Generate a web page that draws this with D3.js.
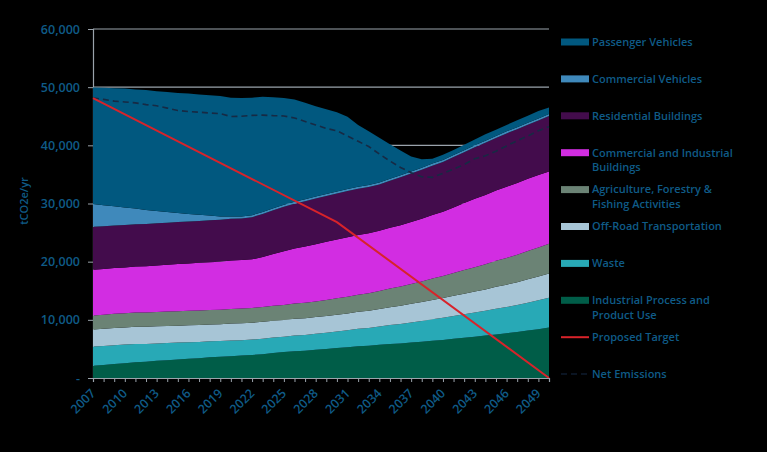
<!DOCTYPE html>
<html>
<head>
<meta charset="utf-8">
<script src="https://cdn.jsdelivr.net/npm/d3@7/dist/d3.min.js"></script>
<style>
  html, body { margin: 0; padding: 0; background: #000; }
  svg { display: block; }
  text { font-family: "Open Sans", sans-serif; }
</style>
</head>
<body>
<svg id="chart" width="767" height="452"></svg>
<script>
// --- data (tCO2e/yr) ---
var years = d3.range(2007, 2051)

var industrial = [2100,2250,2400,2550,2700,2800,2950,3050,3200,3300,3400,3550,3650,3750,3850,3950,4100,4300,4450,4600,4700,4850,5000,5150,5300,5450,5550,5700,5850,5950,6100,6250,6400,6550,6750,6900,7100,7300,7500,7700,7900,8150,8400,8700]
var waste = [3300,3250,3250,3200,3150,3050,3000,2950,2900,2850,2800,2750,2700,2700,2650,2650,2650,2650,2650,2700,2700,2750,2800,2850,2900,3000,3050,3150,3250,3350,3450,3550,3700,3800,3900,4050,4150,4250,4400,4500,4650,4800,4950,5100]
var offRoad = [2950,2950,2950,2950,2950,2950,2950,2950,2900,2900,2900,2900,2900,2900,2900,2900,2900,2880,2870,2870,2870,2870,2880,2890,2900,2930,2960,3000,3070,3130,3200,3270,3330,3400,3470,3530,3600,3680,3770,3850,3930,4020,4100,4150]
var agriculture = [2400,2420,2440,2450,2450,2450,2450,2470,2480,2500,2500,2500,2500,2520,2530,2550,2570,2580,2600,2630,2670,2700,2750,2800,2850,2930,3020,3100,3200,3300,3400,3530,3670,3800,3930,4070,4200,4330,4470,4600,4730,4870,5000,5150]
var commIndBuildings = [7850,7850,7850,7850,7900,7950,8000,8050,8100,8150,8200,8220,8250,8350,8350,8350,8600,8900,9230,9450,9650,9830,9980,10120,10250,10280,10320,10350,10450,10550,10650,10780,10920,11050,11280,11520,11750,11920,12080,12250,12320,12400,12450,12400]
var residential = [7400,7370,7330,7300,7280,7270,7250,7230,7220,7200,7200,7200,7200,7150,7150,7250,7380,7520,7650,7720,7790,7850,7880,7920,7950,7950,7950,7950,8080,8220,8350,8420,8490,8550,8650,8750,8850,8950,9050,9150,9220,9290,9350,9550]
var commVehicles = [3900,3600,3300,3000,2700,2400,2100,1850,1550,1300,1050,800,550,400,350,350,350,350,350,350,350,350,350,350,350,350,350,350,350,350,350,350,350,350,350,350,350,350,350,350,350,350,350,350]
var passVehicles = [20050,20210,20280,20450,20470,20630,20600,20600,20650,20700,20700,20680,20750,20430,20370,20200,19800,19070,18350,17580,16570,15500,14560,13620,12400,10610,9200,7700,5950,4250,2600,1450,840,900,870,930,1000,1120,1080,1100,1200,1220,1300,1100]
var netEmissions = [48150,47900,47600,47450,47300,47000,46800,46400,46000,45800,45700,45550,45450,44950,45000,45150,45200,45100,45050,44700,44100,43500,42900,42500,41600,40700,39800,38500,37300,36200,35300,34600,34500,35200,35900,36700,37700,38200,39000,39900,40800,41600,42500,43200]
var targetYears = [2007, 2030, 2050]
var targetValues = [48100, 26800, 0]

var yTicks = [0, 10000, 20000, 30000, 40000, 50000, 60000]
var xLabelYears = d3.range(2007, 2050, 3)

// --- series, bottom to top ---
var series = [
  {key: "industrial", name: ["Industrial Process and", "Product Use"], color: "#005d48", values: industrial},
  {key: "waste", name: ["Waste"], color: "#28a9b6", values: waste},
  {key: "offRoad", name: ["Off-Road Transportation"], color: "#a7c5d6", values: offRoad},
  {key: "agriculture", name: ["Agriculture, Forestry &", "Fishing Activities"], color: "#6b8375", values: agriculture},
  {key: "commInd", name: ["Commercial and Industrial", "Buildings"], color: "#d22de2", values: commIndBuildings},
  {key: "residential", name: ["Residential Buildings"], color: "#430c4c", values: residential},
  {key: "commVeh", name: ["Commercial Vehicles"], color: "#3f89bb", values: commVehicles},
  {key: "passVeh", name: ["Passenger Vehicles"], color: "#01587f", values: passVehicles}
]

var textColor = "#0f5b87"
var gridColor = "#9aa3ab"

var margin = {top: 29, right: 218, bottom: 74, left: 93}
var width = 767 - margin.left - margin.right
var height = 452 - margin.top - margin.bottom

var svg = d3.select("#chart")
var g = svg.append("g").attr("transform", "translate(" + margin.left + "," + margin.top + ")")

var x = d3.scaleLinear().domain([2007, 2050]).range([0, width])
var y = d3.scaleLinear().domain([0, 60000]).range([height, 0])

// table for the stack
var table = years.map(function(yr, i) {
  var row = {year: yr}
  series.forEach(function(s) { row[s.key] = s.values[i] })
  return row
})
var stacked = d3.stack().keys(series.map(function(s) { return s.key }))(table)

//---gridlines---
g.append("g")
  .selectAll("line")
  .data(yTicks.filter(function(d) { return d > 0 }))
  .join("line")
  .attr("x1", 0).attr("x2", width)
  .attr("y1", function(d) { return y(d) }).attr("y2", function(d) { return y(d) })
  .attr("stroke", gridColor).attr("stroke-width", 1.2)

//---y axis---
var yAxis = g.append("g")
  .call(d3.axisLeft(y).tickValues(yTicks).tickSize(5).tickPadding(8)
    .tickFormat(function(d) { return d === 0 ? "-" : d3.format(",")(d) }))
yAxis.select(".domain").attr("stroke", gridColor).attr("stroke-width", 1.2)
yAxis.selectAll(".tick line").attr("stroke", gridColor)
yAxis.selectAll(".tick text")
  .attr("fill", textColor).attr("font-size", 12.5).attr("font-weight", 600)
  .attr("font-family", "Open Sans, sans-serif")

//---areas---
var area = d3.area()
  .x(function(d) { return x(d.data.year) })
  .y0(function(d) { return y(d[0]) })
  .y1(function(d) { return y(d[1]) })

g.append("g")
  .selectAll("path")
  .data(stacked)
  .join("path")
  .attr("d", area)
  .attr("fill", function(d, i) { return series[i].color })

//---net emissions (dashed)---
var line = d3.line()
  .x(function(d) { return x(d[0]) })
  .y(function(d) { return y(d[1]) })

g.append("path")
  .attr("d", line(years.map(function(yr, i) { return [yr, netEmissions[i]] })))
  .attr("fill", "none")
  .attr("stroke", "#172a44")
  .attr("stroke-width", 1.6)
  .attr("stroke-dasharray", "6,4")

//---proposed target---
g.append("path")
  .attr("d", line(targetYears.map(function(yr, i) { return [yr, targetValues[i]] })))
  .attr("fill", "none")
  .attr("stroke", "#d8232a")
  .attr("stroke-width", 2)

//---x axis---
var xAxis = g.append("g")
  .attr("transform", "translate(0," + height + ")")
  .call(d3.axisBottom(x).tickValues(years).tickSize(4).tickFormat(""))
xAxis.select(".domain").attr("stroke", gridColor).attr("stroke-width", 1.2)
xAxis.selectAll(".tick line").attr("stroke", gridColor)

g.append("g")
  .selectAll("text")
  .data(xLabelYears)
  .join("text")
  .attr("transform", function(d) { return "translate(" + (x(d) - 3) + "," + (height + 10) + ") rotate(-45)" })
  .attr("text-anchor", "end")
  .attr("dy", "0.7em")
  .attr("fill", textColor)
  .attr("font-size", 12.5)
  .attr("font-weight", 600)
  .text(function(d) { return d })

//---y title---
svg.append("text")
  .attr("transform", "translate(28,201) rotate(-90)")
  .attr("text-anchor", "middle")
  .attr("fill", textColor)
  .attr("font-size", 11)
  .attr("font-weight", 600)
  .text("tCO2e/yr")

//---legend---
var legendItems = series.slice().reverse().map(function(s) { return {name: s.name, type: "rect", color: s.color} })
legendItems.push({name: ["Proposed Target"], type: "line", color: "#d8232a"})
legendItems.push({name: ["Net Emissions"], type: "dash", color: "#0a1422"})

var legend = svg.append("g").attr("transform", "translate(561,42)")
var item = legend.selectAll("g")
  .data(legendItems)
  .join("g")
  .attr("transform", function(d, i) { return "translate(0," + (i * 36.9) + ")" })

item.filter(function(d) { return d.type === "rect" })
  .append("rect")
  .attr("x", 0).attr("y", -3.5).attr("width", 28).attr("height", 7)
  .attr("fill", function(d) { return d.color })
item.filter(function(d) { return d.type !== "rect" })
  .append("line")
  .attr("x1", 0).attr("x2", 28).attr("y1", 0).attr("y2", 0)
  .attr("stroke", function(d) { return d.color })
  .attr("stroke-width", 2)
  .attr("stroke-dasharray", function(d) { return d.type === "dash" ? "6,4" : null })

item.append("text")
  .attr("x", 31)
  .attr("fill", textColor)
  .attr("font-size", 11)
  .attr("font-weight", 600)
  .selectAll("tspan")
  .data(function(d) { return d.name })
  .join("tspan")
  .attr("x", 31)
  .attr("y", function(d, i) { return i * 14.4 })
  .attr("dy", "0.35em")
  .text(function(d) { return d })
</script>
</body>
</html>
